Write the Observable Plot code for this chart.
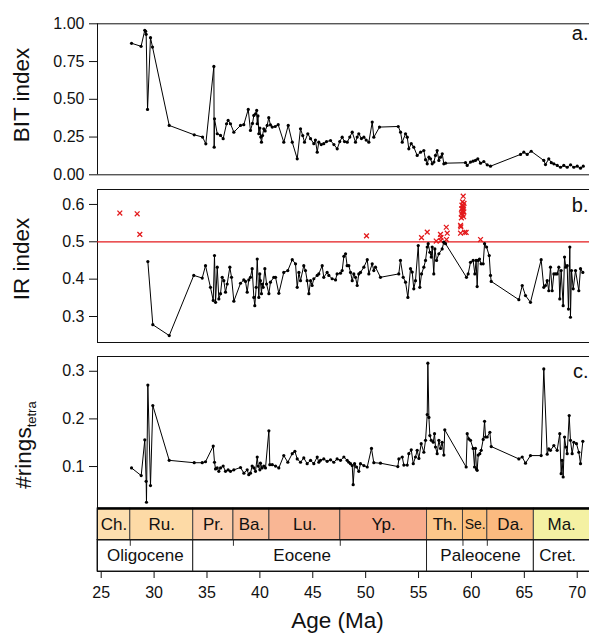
<!DOCTYPE html>
<html><head><meta charset="utf-8">
<script src="https://cdn.jsdelivr.net/npm/d3@7"></script>
<script src="https://cdn.jsdelivr.net/npm/@observablehq/plot@0.6"></script>
<style>
html,body{margin:0;padding:0;background:#fff;}
#wrap{position:relative;width:589px;height:633px;overflow:hidden;font-family:"Liberation Sans",Arial,Helvetica,sans-serif;color:#111;}
#wrap svg{position:absolute;left:0;top:0;}
.ttl{position:absolute;font-size:22.5px;white-space:nowrap;line-height:1;transform:translate(-50%,-50%);}
.rot{transform:translate(-50%,-50%) rotate(-90deg);}
</style></head><body><div id="wrap"></div>
<script>
// ---------- data ----------
const bitAge = [27.87, 28.77, 29.12, 29.2, 29.25, 29.38, 29.66, 29.85, 31.43, 33.79,
 34.58, 34.89, 35.65, 35.68, 35.71, 35.97, 36.28, 36.53, 36.85, 37.0,
 37.22, 37.54, 38.17, 38.48, 38.9, 39.11, 39.3, 39.43, 39.59, 39.7,
 39.75, 39.82, 39.9, 40.0, 40.08, 40.15, 40.25, 40.37, 40.5, 40.69,
 40.84, 41.0, 41.17, 41.45, 41.73, 42.26, 42.68, 43.06, 43.53, 43.84,
 44.05, 44.22, 44.53, 44.79, 45.1, 45.25, 45.42, 45.57, 45.8, 46.04,
 46.3, 46.68, 47.0, 47.31, 47.55, 47.78, 48.0, 48.26, 48.5, 48.73,
 49.04, 49.2, 49.35, 49.6, 49.83, 50.05, 50.3, 50.62, 50.77, 51.31,
 53.08, 53.3, 53.46, 53.77, 53.93, 54.08, 54.31, 54.55, 54.87, 55.19,
 55.5, 55.66, 55.82, 55.98, 56.13, 56.29, 56.45, 56.6, 56.76, 56.92,
 57.08, 57.24, 57.39, 57.55, 59.44, 59.6, 59.91, 60.15, 60.38, 60.6,
 60.86, 61.17, 61.49, 61.8, 64.64, 64.95, 65.27, 65.65, 66.84, 67.0,
 67.31, 67.55, 67.79, 68.11, 68.42, 68.73, 69.05, 69.37, 69.68, 70.0,
 70.31, 70.57];
const bitVal = [0.871, 0.851, 0.957, 0.95, 0.93, 0.433, 0.908, 0.846, 0.327, 0.265,
 0.25, 0.205, 0.718, 0.183, 0.371, 0.272, 0.261, 0.239, 0.338, 0.36,
 0.338, 0.282, 0.327, 0.332, 0.433, 0.294, 0.34, 0.393, 0.404, 0.426,
 0.338, 0.39, 0.272, 0.31, 0.25, 0.216, 0.26, 0.305, 0.29, 0.327,
 0.378, 0.33, 0.316, 0.32, 0.332, 0.216, 0.327, 0.216, 0.106, 0.305,
 0.26, 0.216, 0.272, 0.239, 0.206, 0.23, 0.15, 0.216, 0.2, 0.206,
 0.22, 0.227, 0.2, 0.172, 0.22, 0.249, 0.22, 0.216, 0.25, 0.282,
 0.216, 0.25, 0.272, 0.24, 0.249, 0.23, 0.216, 0.349, 0.249, 0.316,
 0.32, 0.282, 0.216, 0.272, 0.249, 0.172, 0.206, 0.183, 0.128, 0.15,
 0.161, 0.1, 0.073, 0.117, 0.106, 0.073, 0.084, 0.128, 0.161, 0.095,
 0.117, 0.139, 0.073, 0.077, 0.08, 0.062, 0.084, 0.09, 0.095, 0.106,
 0.077, 0.088, 0.066, 0.057, 0.135, 0.15, 0.135, 0.156, 0.095, 0.068,
 0.106, 0.08, 0.073, 0.062, 0.05, 0.062, 0.05, 0.066, 0.05, 0.057,
 0.044, 0.057];

const irAge = [29.41, 29.88, 31.43, 33.75, 34.55, 34.86, 35.33, 35.59, 35.71, 35.81,
 35.97, 36.12, 36.28, 36.44, 36.59, 36.75, 36.91, 37.16, 37.32, 37.54,
 38.17, 38.48, 38.64, 38.8, 38.95, 39.11, 39.27, 39.43, 39.52, 39.65,
 39.75, 39.9, 39.99, 40.05, 40.15, 40.21, 40.31, 40.47, 40.63, 40.85,
 41.0, 41.32, 41.48, 41.79, 42.26, 42.64, 43.06, 43.37, 43.53, 43.69,
 43.84, 44.15, 44.31, 44.47, 44.63, 44.79, 44.94, 45.1, 45.42, 45.57,
 45.89, 46.04, 46.36, 46.52, 46.83, 47.15, 47.3, 47.62, 47.78, 47.94,
 48.1, 48.25, 48.41, 48.57, 48.73, 48.88, 49.04, 49.2, 49.35, 49.51,
 49.83, 50.15, 50.3, 50.62, 50.77, 50.93, 51.4, 53.13, 53.29, 53.55,
 53.77, 53.99, 54.24, 54.4, 54.55, 54.71, 54.97, 55.12, 55.28, 55.5,
 55.66, 55.82, 55.91, 56.07, 56.2, 56.29, 56.44, 56.54, 56.7, 56.92,
 57.23, 57.39, 57.55, 59.53, 59.69, 59.91, 60.16, 60.32, 60.44, 60.54,
 60.64, 60.76, 60.92, 61.11, 61.24, 61.43, 61.68, 61.8, 61.87, 64.48,
 64.8, 65.11, 65.58, 66.59, 66.84, 67.0, 67.16, 67.31, 67.47, 67.63,
 67.79, 67.95, 68.1, 68.26, 68.35, 68.48, 68.67, 68.8, 68.92, 69.05,
 69.17, 69.3, 69.36, 69.46, 69.62, 69.84, 70.15, 70.31, 70.53];
const irVal = [0.447, 0.278, 0.249, 0.41, 0.403, 0.436, 0.378, 0.343, 0.463, 0.338,
 0.432, 0.347, 0.361, 0.405, 0.396, 0.365, 0.387, 0.432, 0.405, 0.341,
 0.389, 0.398, 0.394, 0.365, 0.398, 0.405, 0.428, 0.351, 0.329, 0.378,
 0.454, 0.351, 0.414, 0.396, 0.361, 0.387, 0.378, 0.428, 0.387, 0.361,
 0.392, 0.405, 0.405, 0.362, 0.418, 0.423, 0.452, 0.441, 0.378, 0.418,
 0.396, 0.436, 0.423, 0.396, 0.361, 0.396, 0.383, 0.401, 0.41, 0.414,
 0.436, 0.405, 0.418, 0.41, 0.401, 0.398, 0.414, 0.416, 0.423, 0.461,
 0.468, 0.436, 0.436, 0.418, 0.396, 0.414, 0.405, 0.383, 0.414, 0.418,
 0.432, 0.452, 0.414, 0.441, 0.423, 0.432, 0.405, 0.414, 0.45, 0.405,
 0.392, 0.351, 0.428, 0.419, 0.374, 0.396, 0.49, 0.378, 0.414, 0.432,
 0.45, 0.486, 0.495, 0.472, 0.459, 0.486, 0.414, 0.481, 0.45, 0.468,
 0.481, 0.499, 0.495, 0.405, 0.414, 0.445, 0.45, 0.414, 0.45, 0.38,
 0.45, 0.454, 0.441, 0.441, 0.495, 0.486, 0.463, 0.41, 0.394, 0.345,
 0.383, 0.356, 0.338, 0.452, 0.378, 0.383, 0.396, 0.369, 0.432, 0.369,
 0.414, 0.414, 0.414, 0.432, 0.347, 0.423, 0.329, 0.459, 0.432, 0.436,
 0.32, 0.486, 0.298, 0.423, 0.374, 0.423, 0.369, 0.428, 0.418];

// samples above the IR threshold (red crosses)
const irOutAge = [26.76, 28.4, 28.65, 50.08, 55.28, 55.82, 56.67, 57.07, 57.12, 57.1,
 57.62, 57.71, 57.64, 58.97, 59.0, 58.97, 59.35, 59.5, 59.22, 59.16,
 59.1, 59.25, 59.3, 59.08, 59.2, 59.28, 59.05, 59.18, 59.26, 59.05,
 59.2, 59.12, 60.86];
const irOutVal = [0.577, 0.575, 0.52, 0.516, 0.511, 0.526, 0.502, 0.52, 0.512, 0.503,
 0.539, 0.523, 0.506, 0.544, 0.54, 0.523, 0.525, 0.525, 0.622, 0.607,
 0.598, 0.596, 0.603, 0.588, 0.585, 0.58, 0.575, 0.572, 0.567, 0.564,
 0.59, 0.58, 0.506];
const irThreshold = 0.5;

const ringsAge = [27.87, 28.78, 29.12, 29.25, 29.28, 29.41, 29.66, 29.88, 31.43, 33.79,
 34.55, 34.86, 35.59, 35.71, 35.81, 35.97, 36.12, 36.28, 36.53, 36.75,
 37.0, 37.22, 37.54, 38.17, 38.49, 38.8, 38.95, 39.11, 39.27, 39.43,
 39.59, 39.75, 39.84, 40.0, 40.05, 40.21, 40.37, 40.53, 40.85, 40.94,
 41.17, 41.48, 41.79, 42.26, 42.64, 43.06, 43.31, 43.53, 43.84, 44.15,
 44.47, 44.79, 45.1, 45.42, 45.57, 45.73, 46.04, 46.36, 46.68, 46.99,
 47.3, 47.62, 47.94, 48.25, 48.41, 48.57, 48.73, 48.82, 48.95, 49.14,
 49.35, 49.51, 49.83, 50.15, 50.55, 50.77, 51.4, 53.04, 53.14, 53.46,
 53.61, 53.93, 54.08, 54.31, 54.5, 54.71, 54.87, 55.03, 55.25, 55.5,
 55.66, 55.82, 55.88, 55.98, 56.07, 56.2, 56.39, 56.51, 56.6, 56.76,
 56.92, 57.08, 57.23, 57.39, 57.48, 59.5, 59.6, 59.75, 59.91, 60.16,
 60.29, 60.38, 60.47, 60.54, 60.64, 60.79, 60.92, 61.11, 61.24, 61.33,
 61.49, 61.74, 61.87, 64.48, 64.8, 65.11, 65.58, 66.59, 66.84, 67.16,
 67.31, 67.47, 67.79, 68.1, 68.35, 68.48, 68.57, 68.67, 68.8, 68.92,
 69.05, 69.24, 69.36, 69.52, 69.68, 69.93, 70.15, 70.31, 70.53];
const ringsVal = [0.097, 0.081, 0.156, 0.069, 0.025, 0.271, 0.06, 0.228, 0.113, 0.108,
 0.108, 0.11, 0.143, 0.109, 0.095, 0.097, 0.09, 0.097, 0.101, 0.09,
 0.093, 0.09, 0.093, 0.098, 0.086, 0.093, 0.083, 0.086, 0.101, 0.097,
 0.09, 0.12, 0.101, 0.093, 0.107, 0.097, 0.101, 0.097, 0.175, 0.104,
 0.104, 0.101, 0.097, 0.123, 0.109, 0.127, 0.132, 0.116, 0.109, 0.118,
 0.106, 0.113, 0.106, 0.12, 0.109, 0.113, 0.116, 0.111, 0.114, 0.109,
 0.116, 0.113, 0.12, 0.113, 0.109, 0.106, 0.102, 0.062, 0.106, 0.099,
 0.09, 0.106, 0.102, 0.099, 0.138, 0.108, 0.107, 0.1, 0.116, 0.12,
 0.103, 0.103, 0.127, 0.135, 0.106, 0.12, 0.134, 0.117, 0.148, 0.13,
 0.155, 0.209, 0.317, 0.203, 0.165, 0.155, 0.151, 0.169, 0.141, 0.127,
 0.155, 0.138, 0.151, 0.124, 0.177, 0.099, 0.169, 0.158, 0.155, 0.138,
 0.099, 0.138, 0.095, 0.092, 0.124, 0.127, 0.134, 0.157, 0.195, 0.162,
 0.162, 0.172, 0.142, 0.116, 0.12, 0.107, 0.123, 0.123, 0.305, 0.126,
 0.137, 0.134, 0.144, 0.134, 0.169, 0.085, 0.113, 0.078, 0.162, 0.141,
 0.127, 0.207, 0.155, 0.127, 0.151, 0.148, 0.13, 0.106, 0.153];

// axes
const ageTicks = [25, 30, 35, 40, 45, 50, 55, 60, 65, 70];
const bitTicks = [0, 0.25, 0.5, 0.75, 1];
const irTicks = [0.3, 0.4, 0.5, 0.6];
const ringsTicks = [0.1, 0.2, 0.3];
const panelLabels = ["a.", "b.", "c."];

// geologic time scale
const stageNames = ["Ch.", "Ru.", "Pr.", "Ba.", "Lu.", "Yp.", "Th.", "Se.", "Da.", "Ma."];
const stageBounds = [23.03, 27.75, 33.7, 37.5, 40.9, 47.6, 55.8, 59.2, 61.5, 65.9, 72.1];
const stageColors = ["#FDDFAF", "#FDDAA6", "#FCCDAA", "#FBC29D", "#F9B694", "#F8AD8D", "#FCC78A", "#FCC07E", "#FBBA80", "#F4F1A3"];
const epochNames = ["Oligocene", "Eocene", "Paleocene", "Cret."];
const epochBounds = [23.03, 33.7, 55.8, 65.9, 72.1];
const epochLabelAge = [29.17, 44.0, 60.86, 68.15];
const subEpochBounds = [27.75, 37.5, 47.6, 59.2, 61.5];

// ---------- build ----------
function pairs(a, b, name) {
  if (a.length !== b.length) throw new Error(name + " length mismatch " + a.length + " vs " + b.length);
  return a.map((x, i) => ({age: x, v: b[i]}));
}
const bit = pairs(bitAge, bitVal, "bit");
const ir = pairs(irAge, irVal, "ir");
const irOut = pairs(irOutAge, irOutVal, "irOut");
const rings = pairs(ringsAge, ringsVal, "rings");

const xDomain = [24.65, 71.16];
const clampL = v => Math.max(v, xDomain[0]);
const stages = stageNames.map((n, i) => ({name: n, start: clampL(stageBounds[i]), end: stageBounds[i + 1], color: stageColors[i]}));
const epochs = epochNames.map((n, i) => ({name: n, start: clampL(epochBounds[i]), end: epochBounds[i + 1], at: epochLabelAge[i]}));
const mid = d => (d.start + Math.min(d.end, xDomain[1])) / 2;

const FONT = '"Liberation Sans", Arial, Helvetica, sans-serif';
const W = 589, H = 633;
const common = {
  width: W, height: H, marginLeft: 97, marginRight: 0,
  style: {background: "transparent", fontFamily: FONT, fontSize: "16px", color: "#111"}
};
const frameStroke = "#111";
const wrap = document.getElementById("wrap");

function panel({data, yDomain, ticks, fmt, top, bottom, label, labelDy, extra = []}) {
  return Plot.plot({
    ...common,
    marginTop: top, marginBottom: H - bottom,
    x: {domain: xDomain, axis: null},
    y: {domain: yDomain, ticks, tickFormat: d3.format(fmt), tickSize: 8, tickPadding: 5, label: null},
    marks: [
      Plot.ruleY(yDomain, {stroke: frameStroke, strokeWidth: 1}),
      Plot.ruleX([xDomain[0]], {stroke: frameStroke, strokeWidth: 1}),
      ...extra,
      Plot.line(data, {x: "age", y: "v", stroke: "#000", strokeWidth: 1}),
      Plot.dot(data, {x: "age", y: "v", r: 1.6, fill: "#000", stroke: "none"}),
      Plot.text([label], {frameAnchor: "top-right", text: d => d, dx: -1, dy: labelDy, fontSize: 20, fill: "#111"})
    ]
  });
}

wrap.appendChild(panel({data: bit, yDomain: [0, 1], ticks: bitTicks, fmt: ".2f", top: 23.3, bottom: 174.3, label: panelLabels[0], labelDy: 1.5}));
wrap.appendChild(panel({data: ir, yDomain: [0.2304, 0.640], ticks: irTicks, fmt: ".1f", top: 189, bottom: 342, label: panelLabels[1], labelDy: 8.5,
  extra: [
    Plot.ruleY([irThreshold], {stroke: "#e31a1c", strokeWidth: 1.3}),
    Plot.dot(irOut, {x: "age", y: "v", symbol: "times", r: 2.3, stroke: "#e31a1c", strokeWidth: 1.3})
  ]}));
wrap.appendChild(panel({data: rings, yDomain: [0.0119, 0.331], ticks: ringsTicks, fmt: ".1f", top: 356, bottom: 508, label: panelLabels[2], labelDy: 7}));

// time scale
wrap.appendChild(Plot.plot({
  ...common,
  marginTop: 508, marginBottom: H - 571,
  x: {domain: xDomain, ticks: ageTicks, tickSize: 7, tickPadding: 8, label: null, tickFormat: d => String(d)},
  y: {domain: [0, 2], axis: null},
  color: {type: "identity"},
  marks: [
    Plot.rect(stages, {x1: "start", x2: "end", y1: 1, y2: 2, fill: "color", stroke: "#444", strokeWidth: 1}),
    Plot.rect(epochs, {x1: "start", x2: "end", y1: 0, y2: 1, fill: "#fff", stroke: "#222", strokeWidth: 1}),
    Plot.ruleX(subEpochBounds, {y1: 1, y2: 0.8, stroke: "#333", strokeWidth: 1}),
    Plot.ruleY([2], {stroke: "#000", strokeWidth: 2.5}),
    Plot.ruleY([0, 1], {stroke: "#111", strokeWidth: 1}),
    Plot.ruleX([xDomain[0]], {stroke: "#111", strokeWidth: 1}),
    Plot.text(stages, {x: mid, y: 1.5, text: "name", fontSize: d => d.name === "Se." ? 14 : 17, fill: "#111"}),
    Plot.text(epochs, {x: "at", y: 0.5, text: "name", fontSize: 17, fill: "#111"})
  ]
}));

// titles
function addTitle(html, x, y, rot) {
  const d = document.createElement("div");
  d.className = "ttl" + (rot ? " rot" : "");
  d.style.left = x + "px"; d.style.top = y + "px";
  d.innerHTML = html;
  wrap.appendChild(d);
}
addTitle("BIT index", 21.5, 95, true);
addTitle("IR index", 21.5, 258.5, true);
addTitle('#rings<span style="font-size:13px;position:relative;top:5px;">tetra</span>', 24, 445, true);
addTitle("Age (Ma)", 337.5, 621, false);
</script></body></html>
